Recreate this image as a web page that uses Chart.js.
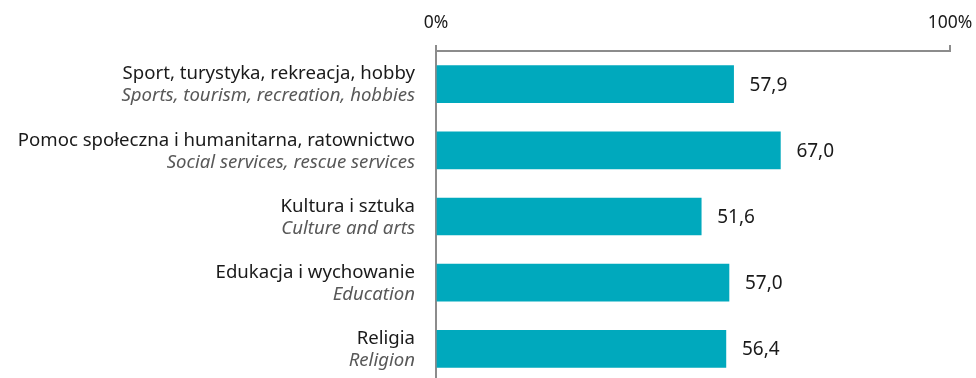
<!DOCTYPE html>
<html>
<head>
<meta charset="utf-8">
<script src="https://cdn.jsdelivr.net/npm/chart.js@4/dist/chart.umd.min.js"></script>
<style>
  html, body { margin: 0; padding: 0; background: #fff; overflow: hidden; }
  #wrap { width: 976px; height: 382px; position: relative; }
</style>
</head>
<body>
<div id="wrap"><canvas id="chart"></canvas></div>
<script>
const labelsPl = [
    'Sport, turystyka, rekreacja, hobby',
    'Pomoc społeczna i humanitarna, ratownictwo',
    'Kultura i sztuka',
    'Edukacja i wychowanie',
    'Religia'
];
const labelsEn = [
    'Sports, tourism, recreation, hobbies',
    'Social services, rescue services',
    'Culture and arts',
    'Education',
    'Religion'
];
const values = [57.9, 67.0, 51.6, 57.0, 56.4];
const axisTicks = [0, 100];

const FONT = '"Noto Sans", "Open Sans", sans-serif';

// category labels (two lines) and values next to bars
const labelPlugin = {
    id: 'labelPlugin',
    afterDatasetsDraw(chart) {
        const ctx = chart.ctx;
        const y = chart.scales.y;
        const x = chart.scales.x;
        ctx.save();
        ctx.textBaseline = 'middle';
        values.forEach((v, i) => {
            const cy = y.getPixelForValue(i);
            ctx.textAlign = 'right';
            ctx.fillStyle = '#1a1a1a';
            ctx.font = '18.6px ' + FONT;
            ctx.fillText(labelsPl[i], chart.chartArea.left - 21, cy - 10);
            ctx.fillStyle = '#585858';
            ctx.font = 'italic 18.6px ' + FONT;
            ctx.fillText(labelsEn[i], chart.chartArea.left - 21, cy + 12);

            ctx.textAlign = 'left';
            ctx.fillStyle = '#1a1a1a';
            ctx.font = '19px ' + FONT;
            ctx.fillText(v.toFixed(1).replace('.', ','), x.getPixelForValue(v) + 16, cy + 1);
        });
        ctx.restore();
    }
};

new Chart(document.getElementById('chart'), {
    type: 'bar',
    data: {
        labels: labelsPl,
        datasets: [{
            data: values,
            backgroundColor: '#00a9bd',
            barThickness: 37
        }]
    },
    options: {
        indexAxis: 'y',
        responsive: true,
        maintainAspectRatio: false,
        animation: false,
        layout: { padding: { left: 428, right: 26, top: 2, bottom: 0 } },
        plugins: { legend: { display: false }, tooltip: { enabled: false } },
        scales: {
            x: {
                position: 'top',
                min: 0,
                max: 100,
                afterBuildTicks: (axis) => { axis.ticks = axisTicks.map(v => ({ value: v })); },
                // the 100% label may hang past the plot edge
                afterFit: (axis) => { axis.paddingLeft = 0; axis.paddingRight = 0; },
                ticks: {
                    callback: v => v + '%',
                    color: '#1a1a1a',
                    font: { family: FONT, size: 17.5 },
                    padding: 11,
                    maxRotation: 0
                },
                grid: {
                    drawOnChartArea: false,
                    tickLength: 6,
                    color: '#8c8c8c',
                    lineWidth: 2
                },
                border: { color: '#8c8c8c', width: 2 }
            },
            y: {
                ticks: { display: false },
                grid: { display: false },
                border: { color: '#8c8c8c', width: 2 }
            }
        }
    },
    plugins: [labelPlugin]
});
</script>
</body>
</html>
